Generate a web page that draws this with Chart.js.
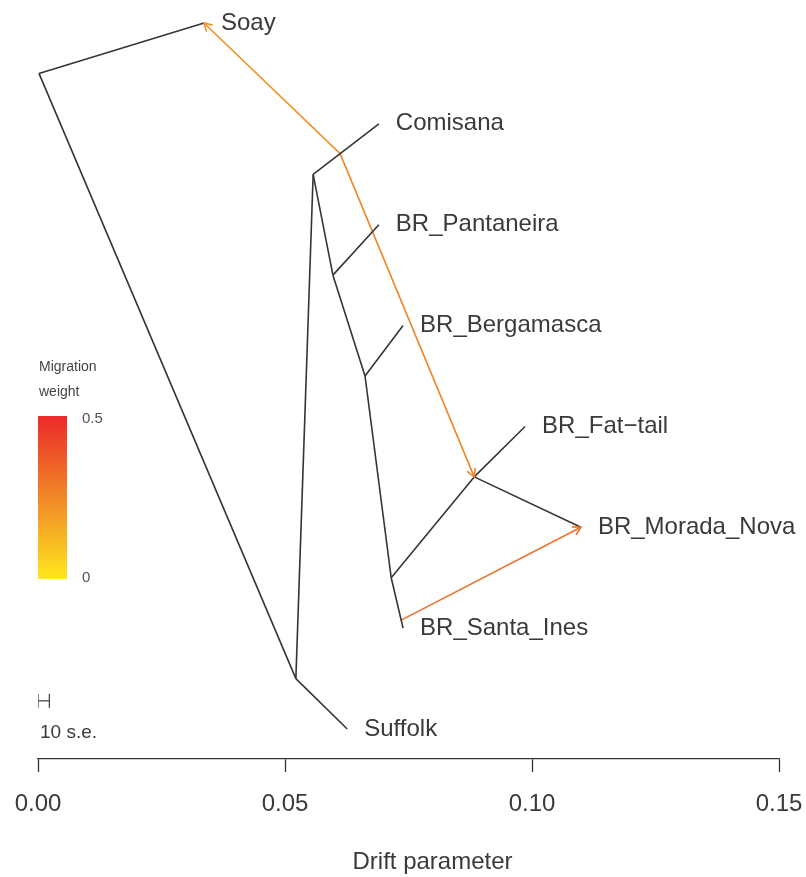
<!DOCTYPE html>
<html>
<head>
<meta charset="utf-8">
<style>
  html, body { margin: 0; padding: 0; background: #ffffff; }
  #wrap { width: 806px; height: 877px; }
</style>
<script src="https://cdn.jsdelivr.net/npm/chart.js@4/dist/chart.umd.min.js"></script>
</head>
<body>
<div id="wrap"><canvas id="c" width="806" height="877"></canvas></div>
<script>
// Tree nodes: drift parameter (x) and row (y, 0 = top row)
const nodeNames = ['root', 'Soay', 'nS', 'Suffolk', 'nA', 'Comisana', 'nP', 'BR_Pantaneira',
                   'nB', 'BR_Bergamasca', 'nF', 'BR_Santa_Ines', 'nFM', 'BR_Fat\u2212tail', 'BR_Morada_Nova'];
const nodeDrift = [0.0002, 0.0336, 0.0522, 0.0626, 0.0557, 0.0690, 0.0597, 0.0690,
                   0.0662, 0.0739, 0.0715, 0.0739, 0.0883, 0.0986, 0.1099];
const nodeRow   = [0.5, 0, 6.5, 7, 1.5, 1, 2.5, 2,
                   3.5, 3, 5.5, 6, 4.5, 4, 5];
// Leaves get a text label
const tipNames = ['Soay', 'Comisana', 'BR_Pantaneira', 'BR_Bergamasca', 'BR_Fat\u2212tail',
                  'BR_Morada_Nova', 'BR_Santa_Ines', 'Suffolk'];

// Tree edges (parent -> child)
const edgeParent = ['root', 'root', 'nS', 'nS', 'nA', 'nA', 'nP', 'nP', 'nB', 'nB', 'nF', 'nF', 'nFM', 'nFM'];
const edgeChild  = ['Soay', 'nS', 'Suffolk', 'nA', 'Comisana', 'nP', 'BR_Pantaneira', 'nB',
                    'BR_Bergamasca', 'nF', 'nFM', 'BR_Santa_Ines', 'BR_Fat\u2212tail', 'BR_Morada_Nova'];

// Migration edges: source branch (parent, child, position along branch), target node, weight
const migSrcParent = ['nA', 'nA', 'nF'];
const migSrcChild  = ['Comisana', 'Comisana', 'BR_Santa_Ines'];
const migSrcFrac   = [0.41, 0.41, 0.84];
const migTarget    = ['Soay', 'nFM', 'BR_Morada_Nova'];
const migWeight    = [0.23, 0.26, 0.31];

// Axis ticks
const xTicks = [0.00, 0.05, 0.10, 0.15];
// Scale bar: 10 standard errors in drift units
const scaleBarWidth = 0.0023;
const scaleBarRow = 6.72;

const TREE_COLOR = '#353535';
const TEXT_COLOR = '#3a3a3a';
const FONT = "'Liberation Sans', Arial, sans-serif";

function node(name) {
  const i = nodeNames.indexOf(name);
  return { x: nodeDrift[i], y: nodeRow[i] };
}

// Yellow -> orange -> red heat ramp for migration weight in [0, 0.5]
const rampStops = [[255, 230, 30], [241, 136, 40], [236, 42, 42]];
function weightColor(w) {
  const t = Math.max(0, Math.min(1, w / 0.5)) * 2;
  const k = Math.min(1, Math.floor(t));
  const f = t - k;
  const a = rampStops[k], b = rampStops[k + 1];
  const c = a.map((v, j) => Math.round(v + (b[j] - v) * f));
  return `rgb(${c[0]},${c[1]},${c[2]})`;
}

const datasets = [];
edgeParent.forEach((p, i) => {
  datasets.push({
    data: [node(p), node(edgeChild[i])],
    borderColor: TREE_COLOR, borderWidth: 1.6,
    showLine: true, pointRadius: 0, tension: 0
  });
});

const migLines = [];
migSrcParent.forEach((p, i) => {
  const a = node(p), b = node(migSrcChild[i]);
  const f = migSrcFrac[i];
  const from = { x: a.x + (b.x - a.x) * f, y: a.y + (b.y - a.y) * f };
  const to = node(migTarget[i]);
  migLines.push({ from, to, color: weightColor(migWeight[i]) });
  datasets.push({
    data: [from, to],
    borderColor: weightColor(migWeight[i]), borderWidth: 1.6,
    showLine: true, pointRadius: 0, tension: 0
  });
});

// Scale bar drawn as an "H": bar plus end caps
const cap = 0.07;
[[{ x: 0, y: scaleBarRow }, { x: scaleBarWidth, y: scaleBarRow }],
 [{ x: 0, y: scaleBarRow - cap }, { x: 0, y: scaleBarRow + cap }],
 [{ x: scaleBarWidth, y: scaleBarRow - cap }, { x: scaleBarWidth, y: scaleBarRow + cap }]
].forEach(seg => datasets.push({
  data: seg, borderColor: '#4a4a4a', borderWidth: 1.3,
  showLine: true, pointRadius: 0, tension: 0
}));

const overlay = {
  id: 'overlay',
  afterDatasetsDraw(chart) {
    const { ctx, scales: { x, y } } = chart;
    ctx.save();

    // arrowheads at the migration targets
    migLines.forEach(m => {
      const x0 = x.getPixelForValue(m.from.x), y0 = y.getPixelForValue(m.from.y);
      const x1 = x.getPixelForValue(m.to.x), y1 = y.getPixelForValue(m.to.y);
      const ang = Math.atan2(y1 - y0, x1 - x0);
      const len = 9, spread = Math.PI / 6;
      ctx.strokeStyle = m.color;
      ctx.lineWidth = 1.6;
      ctx.beginPath();
      ctx.moveTo(x1 - len * Math.cos(ang - spread), y1 - len * Math.sin(ang - spread));
      ctx.lineTo(x1, y1);
      ctx.lineTo(x1 - len * Math.cos(ang + spread), y1 - len * Math.sin(ang + spread));
      ctx.stroke();
    });

    // leaf labels
    ctx.fillStyle = TEXT_COLOR;
    ctx.font = `24px ${FONT}`;
    ctx.textAlign = 'left';
    ctx.textBaseline = 'middle';
    tipNames.forEach(n => {
      const p = node(n);
      ctx.fillText(n, x.getPixelForValue(p.x) + 17, y.getPixelForValue(p.y));
    });

    // scale bar caption
    ctx.font = `19px ${FONT}`;
    ctx.fillText('10 s.e.', x.getPixelForValue(0) + 2, y.getPixelForValue(scaleBarRow) + 32);

    // axis title
    ctx.font = `24px ${FONT}`;
    ctx.textAlign = 'center';
    ctx.fillText('Drift parameter', (x.left + x.right) / 2 + 24, 862);

    // migration weight colour key
    const kx = 38, ky = 416, kw = 29, kh = 163;
    const g = ctx.createLinearGradient(0, ky, 0, ky + kh);
    g.addColorStop(0, 'rgb(236,42,42)');
    g.addColorStop(0.5, 'rgb(241,136,40)');
    g.addColorStop(1, 'rgb(255,230,30)');
    ctx.fillStyle = g;
    ctx.fillRect(kx, ky, kw, kh);
    ctx.fillStyle = '#444444';
    ctx.font = `14px ${FONT}`;
    ctx.textAlign = 'left';
    ctx.fillText('Migration', kx + 1, 367);
    ctx.fillText('weight', kx + 1, 392);
    ctx.fillStyle = '#555555';
    ctx.font = `15px ${FONT}`;
    ctx.fillText('0.5', kx + 44, ky + 3);
    ctx.fillText('0', kx + 44, ky + kh - 1);

    ctx.restore();
  }
};

new Chart(document.getElementById('c'), {
  type: 'scatter',
  data: { datasets },
  options: {
    responsive: false,
    animation: false,
    devicePixelRatio: 1,
    layout: { padding: { left: 38, right: 27, top: 0, bottom: 0 } },
    plugins: { legend: { display: false }, tooltip: { enabled: false } },
    scales: {
      x: {
        type: 'linear', position: 'bottom', min: xTicks[0], max: xTicks[xTicks.length - 1],
        afterFit(s) { s.height = 118; s.paddingLeft = 0; s.paddingRight = 0; },
        afterBuildTicks(s) { s.ticks = xTicks.map(v => ({ value: v })); },
        border: { display: true, color: '#333333', width: 1.3 },
        grid: { drawOnChartArea: false, drawTicks: true, tickLength: 13, color: '#333333', tickColor: '#333333', tickWidth: 1.3 },
        ticks: {
          padding: 18, color: TEXT_COLOR, maxRotation: 0, autoSkip: false,
          font: { family: FONT, size: 24 },
          callback: v => Number(v).toFixed(2)
        }
      },
      y: { type: 'linear', min: -0.228, max: 7.297, reverse: true, display: false }
    }
  },
  plugins: [overlay]
});
</script>
</body>
</html>
